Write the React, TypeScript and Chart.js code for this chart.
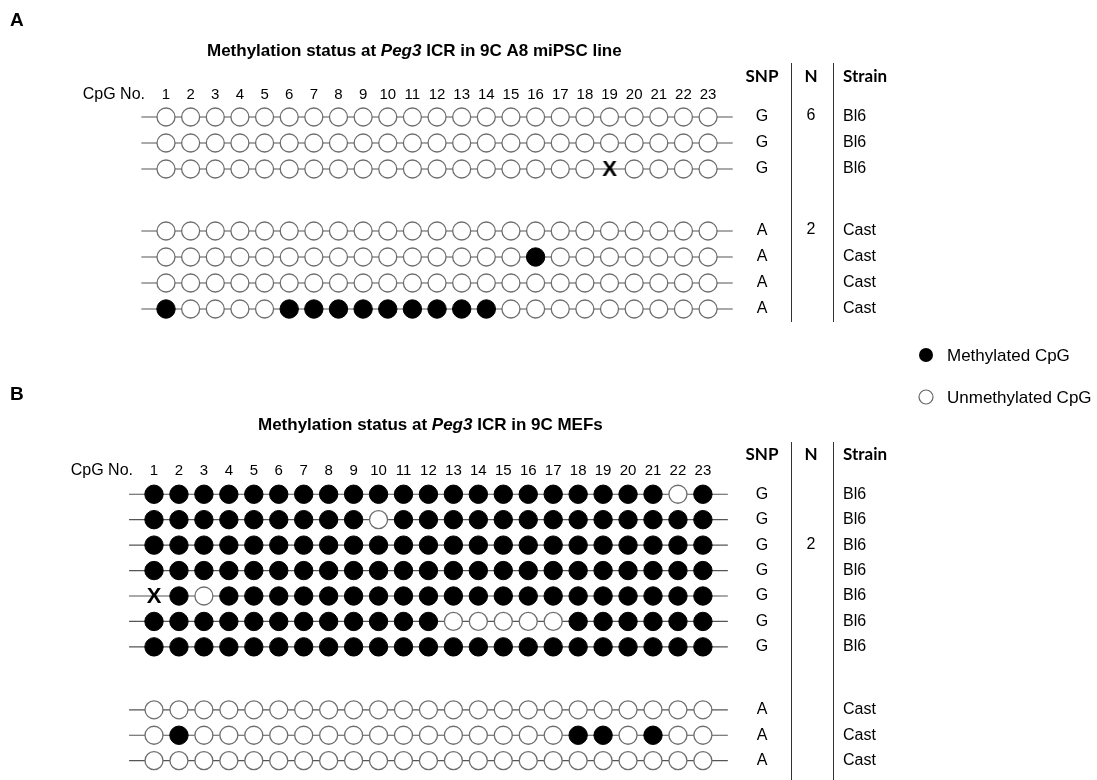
import React, { useEffect, useRef } from 'react';
import { Chart, registerables } from 'chart.js';

Chart.register(...registerables);

// ---------------- DATA ----------------
const cpgNumbers = ['1','2','3','4','5','6','7','8','9','10','11','12','13','14','15','16','17','18','19','20','21','22','23'];
const cpgAxisLabel = 'CpG No.';
const columnHeaders = ['SNP', 'N', 'Strain'];
const legendLabels = ['Methylated CpG', 'Unmethylated CpG'];

// '1' = methylated CpG, '0' = unmethylated CpG, 'x' = not determined
const readsA = [
  '00000000000000000000000',
  '00000000000000000000000',
  '000000000000000000x0000',
  '00000000000000000000000',
  '00000000000000010000000',
  '00000000000000000000000',
  '10000111111111000000000',
];
const snpA = ['G', 'G', 'G', 'A', 'A', 'A', 'A'];
const nA = ['6', '', '', '2', '', '', ''];
const strainA = ['Bl6', 'Bl6', 'Bl6', 'Cast', 'Cast', 'Cast', 'Cast'];
const titleA = ['Methylation status at ', 'Peg3', ' ICR in 9C A8 miPSC line'];

const readsB = [
  '11111111111111111111101',
  '11111111101111111111111',
  '11111111111111111111111',
  '11111111111111111111111',
  'x1011111111111111111111',
  '11111111111100000111111',
  '11111111111111111111111',
  '00000000000000000000000',
  '01000000000000000110100',
  '00000000000000000000000',
];
const snpB = ['G', 'G', 'G', 'G', 'G', 'G', 'G', 'A', 'A', 'A'];
const nB = ['', '', '2', '', '', '', '', '', '', ''];
const strainB = ['Bl6', 'Bl6', 'Bl6', 'Bl6', 'Bl6', 'Bl6', 'Bl6', 'Cast', 'Cast', 'Cast'];
const titleB = ['Methylation status at ', 'Peg3', ' ICR in 9C MEFs'];

// ---------------- LAYOUT ----------------
const W = 1097;
const H = 780;
const FONT = '"Liberation Sans", Arial, sans-serif';
const HEAD_FONT = 'Lato, "Open Sans", "Liberation Sans", sans-serif';
const SNP_X = 762;
const N_X = 811;
const STRAIN_X = 843;
const VLINE1 = 791;
const VLINE2 = 833;

const layoutA = { x1: 166, pitch: 24.64, row1y: 117, rowPitch: 26, gap: 1.385, yMax: 8, letterY: 21, titleLeft: 207, titleY: 51, numY: 95, headerY: 77, vTop: 63, vBottom: 322 };
const layoutB = { x1: 154, pitch: 24.95, row1y: 495, rowPitch: 26.2, gap: 1.473, yMax: 10.8, letterY: 395, titleLeft: 258, titleY: 425, numY: 471, headerY: 455, vTop: 442, vBottom: 780 };

type Panel = {
  letter: string;
  reads: string[];
  snp: string[];
  n: string[];
  strain: string[];
  title: string[];
  L: typeof layoutA;
  legend: boolean;
};

const panelA: Panel = { letter: 'A', reads: readsA, snp: snpA, n: nA, strain: strainA, title: titleA, L: layoutA, legend: false };
const panelB: Panel = { letter: 'B', reads: readsB, snp: snpB, n: nB, strain: strainB, title: titleB, L: layoutB, legend: true };

function rowValue(p: Panel, r: number) {
  return r + (p.strain[r] === 'Cast' ? p.L.gap : 0);
}

function makeXStyle() {
  const c = document.createElement('canvas');
  c.width = 20;
  c.height = 22;
  const g = c.getContext('2d')!;
  g.fillStyle = '#000';
  g.font = 'bold 22px ' + FONT;
  g.textAlign = 'center';
  g.textBaseline = 'middle';
  g.fillText('X', 10, 12);
  return c;
}

function textPlugin(p: Panel) {
  return {
    id: 'panelText' + p.letter,
    afterDraw(chart: any) {
      const { ctx } = chart;
      const x = chart.scales.x;
      const y = chart.scales.y;
      const L = p.L;
      ctx.save();
      ctx.fillStyle = '#000';
      ctx.textBaseline = 'middle';

      // panel letter
      ctx.textAlign = 'left';
      ctx.font = 'bold 19px ' + FONT;
      ctx.fillText(p.letter, 10, L.letterY);

      // title with italic gene name
      let tx = L.titleLeft;
      p.title.forEach((seg, i) => {
        ctx.font = (i === 1 ? 'italic ' : '') + 'bold 17px ' + FONT;
        ctx.fillText(seg, tx, L.titleY);
        tx += ctx.measureText(seg).width;
      });

      // CpG numbers
      ctx.font = '16px ' + FONT;
      ctx.textAlign = 'right';
      ctx.fillText(cpgAxisLabel, x.getPixelForValue(1) - 21, L.numY);
      ctx.font = '15px ' + FONT;
      ctx.textAlign = 'center';
      cpgNumbers.forEach((num, i) => {
        ctx.fillText(num, x.getPixelForValue(i + 1), L.numY);
      });

      // column headers
      ctx.font = 'bold 17px ' + HEAD_FONT;
      ctx.textAlign = 'center';
      ctx.fillText(columnHeaders[0], SNP_X, L.headerY);
      ctx.fillText(columnHeaders[1], N_X, L.headerY);
      ctx.textAlign = 'left';
      ctx.fillText(columnHeaders[2], STRAIN_X, L.headerY);

      // vertical separators
      ctx.strokeStyle = '#333';
      ctx.lineWidth = 1;
      [VLINE1, VLINE2].forEach((vx) => {
        ctx.beginPath();
        ctx.moveTo(vx + 0.5, L.vTop);
        ctx.lineTo(vx + 0.5, L.vBottom);
        ctx.stroke();
      });

      // row columns
      ctx.font = '16px ' + FONT;
      p.snp.forEach((s, r) => {
        const py = y.getPixelForValue(rowValue(p, r));
        ctx.textAlign = 'center';
        ctx.fillText(s, SNP_X, py);
        if (p.n[r]) ctx.fillText(p.n[r], N_X, py - 1);
        ctx.textAlign = 'left';
        ctx.fillText(p.strain[r], STRAIN_X, py);
      });

      // legend
      if (p.legend) {
        const ly = [355, 397];
        legendLabels.forEach((lab, i) => {
          ctx.beginPath();
          ctx.arc(926, ly[i], 7, 0, Math.PI * 2);
          if (i === 0) {
            ctx.fillStyle = '#000';
            ctx.fill();
          } else {
            ctx.fillStyle = '#fff';
            ctx.fill();
            ctx.strokeStyle = '#666';
            ctx.lineWidth = 1.2;
            ctx.stroke();
          }
          ctx.fillStyle = '#000';
          ctx.font = '17px ' + FONT;
          ctx.textAlign = 'left';
          ctx.fillText(lab, 947, ly[i] + 1);
        });
      }
      ctx.restore();
    },
  };
}

function makeChart(canvas: HTMLCanvasElement, p: Panel) {
  const L = p.L;
  const left = L.x1 - L.pitch;
  const right = W - (L.x1 + 23 * L.pitch);
  const top = L.row1y - L.rowPitch;
  const bottom = H - (top + (L.yMax + 1) * L.rowPitch);

  const lineSets = p.reads.map((_, r) => ({
    data: [{ x: 0, y: rowValue(p, r) }, { x: 24, y: rowValue(p, r) }],
    showLine: true,
    borderColor: '#555',
    borderWidth: 1.2,
    pointRadius: 0,
    clip: false,
    order: 3,
  }));

  const pts = (ch: string) => {
    const out: { x: number; y: number }[] = [];
    p.reads.forEach((read, r) => {
      read.split('').forEach((c, i) => {
        if (c === ch) out.push({ x: i + 1, y: rowValue(p, r) });
      });
    });
    return out;
  };

  const xStyle = makeXStyle();

  return new Chart(canvas, {
    type: 'scatter',
    data: {
      datasets: [
        ...lineSets,
        {
          data: pts('0'),
          pointRadius: 9,
          pointBackgroundColor: '#fff',
          pointBorderColor: '#6e6e6e',
          pointBorderWidth: 1.3,
          clip: false,
          order: 2,
        },
        {
          data: pts('1'),
          pointRadius: 9.2,
          pointBackgroundColor: '#000',
          pointBorderColor: '#000',
          pointBorderWidth: 1,
          clip: false,
          order: 1,
        },
        {
          data: pts('x'),
          pointStyle: xStyle as any,
          pointRadius: 10,
          clip: false,
          order: 0,
        },
      ] as any,
    },
    options: {
      responsive: false,
      animation: false,
      events: [],
      layout: { padding: { left, right, top, bottom } },
      scales: {
        x: { type: 'linear', min: 0, max: 24, display: false },
        y: { type: 'linear', min: -1, max: L.yMax, reverse: true, display: false },
      },
      plugins: { legend: { display: false }, tooltip: { enabled: false } },
    },
    plugins: [textPlugin(p)],
  } as any);
}

export default function App() {
  const refA = useRef<HTMLCanvasElement>(null);
  const refB = useRef<HTMLCanvasElement>(null);
  useEffect(() => {
    const a = makeChart(refA.current!, panelA);
    const b = makeChart(refB.current!, panelB);
    return () => {
      a.destroy();
      b.destroy();
    };
  }, []);
  return (
    <div style={{ position: 'absolute', left: 0, top: 0, width: W, height: H, background: '#fff', overflow: 'hidden' }}>
      <canvas ref={refA} width={W} height={H} style={{ position: 'absolute', left: 0, top: 0 }} />
      <canvas ref={refB} width={W} height={H} style={{ position: 'absolute', left: 0, top: 0 }} />
    </div>
  );
}
